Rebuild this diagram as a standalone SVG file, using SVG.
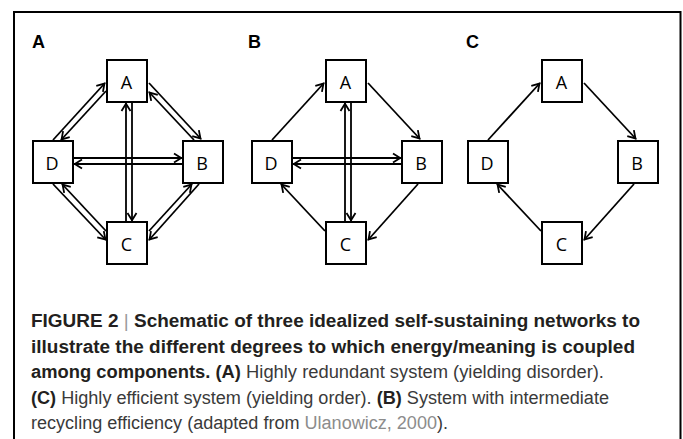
<svg xmlns="http://www.w3.org/2000/svg" width="683" height="439" viewBox="0 0 683 439">
<defs>
<style>
.box{fill:#fff;stroke:#000;stroke-width:2}
.nl{font-family:"Open Sans","Liberation Sans",sans-serif;font-size:18px;fill:#000;text-anchor:middle}
.pl{font-family:"Liberation Sans",Arial,sans-serif;font-size:18px;font-weight:bold;fill:#000}
.cn line{stroke:#000;stroke-width:1.8;marker-end:url(#ah)}
.cap{font-family:"Liberation Sans",Arial,sans-serif;font-size:18px;fill:#3a3a3a}
.b{font-weight:bold;fill:#231f20}
.g{fill:#8c8c8c}
.bar{fill:#9a9a9a;font-weight:normal}
</style>
<marker id="ah" viewBox="-10 -6 12 12" refX="0" refY="0" markerWidth="12" markerHeight="12" markerUnits="userSpaceOnUse" orient="auto">
<path d="M-8,-4.5 L-0.8,0 L-8,4.5" fill="none" stroke="#000" stroke-width="1.8"/>
</marker>
</defs>
<rect width="683" height="439" fill="#fff"/>
<path d="M14,439 V12 H680.5 V439" fill="none" stroke="#000" stroke-width="2"/>

<!-- Panel A -->
<text class="pl" x="32" y="48">A</text>
<g class="cn" id="connA">
<line x1="53" y1="140" x2="105" y2="83"/>
<line x1="106" y1="91" x2="61" y2="140"/>
<line x1="149" y1="83" x2="201" y2="139"/>
<line x1="194" y1="140" x2="149" y2="92"/>
<line x1="74" y1="158" x2="182" y2="158"/>
<line x1="182" y1="164" x2="74" y2="164"/>
<line x1="126" y1="221" x2="126" y2="103"/>
<line x1="132" y1="103" x2="132" y2="221"/>
<line x1="199" y1="184" x2="149" y2="240"/>
<line x1="149" y1="231" x2="192" y2="184"/>
<line x1="106" y1="231" x2="62" y2="184"/>
<line x1="53" y1="184" x2="106" y2="240"/>
</g>
<g id="a-A"><rect class="box" x="107" y="60" width="40" height="42"/><text class="nl" x="126.5" y="88.5">A</text></g>
<g id="a-B"><rect class="box" x="183" y="141" width="40" height="42"/><text class="nl" x="202" y="169.5">B</text></g>
<g id="a-C"><rect class="box" x="107" y="222" width="40" height="42"/><text class="nl" x="126.5" y="250.5">C</text></g>
<g id="a-D"><rect class="box" x="33" y="141" width="40" height="42"/><text class="nl" x="52" y="169.5">D</text></g>

<!-- Panel B -->
<text class="pl" x="248" y="48">B</text>
<g class="cn" id="connB" transform="translate(219,0)">
<line x1="53" y1="140" x2="105" y2="83"/>
<line x1="149" y1="83" x2="201" y2="139"/>
<line x1="74" y1="158" x2="182" y2="158"/>
<line x1="182" y1="164" x2="74" y2="164"/>
<line x1="126" y1="221" x2="126" y2="103"/>
<line x1="132" y1="103" x2="132" y2="221"/>
<line x1="199" y1="184" x2="149" y2="240"/>
<line x1="106" y1="231" x2="62" y2="184"/>
</g>
<g id="b-A"><rect class="box" x="326" y="60" width="40" height="42"/><text class="nl" x="345.5" y="88.5">A</text></g>
<g id="b-B"><rect class="box" x="402" y="141" width="40" height="42"/><text class="nl" x="421" y="169.5">B</text></g>
<g id="b-C"><rect class="box" x="326" y="222" width="40" height="42"/><text class="nl" x="345.5" y="250.5">C</text></g>
<g id="b-D"><rect class="box" x="252" y="141" width="40" height="42"/><text class="nl" x="271" y="169.5">D</text></g>

<!-- Panel C -->
<text class="pl" x="466" y="48">C</text>
<g class="cn" id="connC" transform="translate(435,0)">
<line x1="53" y1="140" x2="105" y2="83"/>
<line x1="149" y1="83" x2="201" y2="139"/>
<line x1="199" y1="184" x2="149" y2="240"/>
<line x1="106" y1="231" x2="62" y2="184"/>
</g>
<g id="c-A"><rect class="box" x="542" y="60" width="40" height="42"/><text class="nl" x="561.5" y="88.5">A</text></g>
<g id="c-B"><rect class="box" x="618" y="141" width="40" height="42"/><text class="nl" x="637" y="169.5">B</text></g>
<g id="c-C"><rect class="box" x="542" y="222" width="40" height="42"/><text class="nl" x="561.5" y="250.5">C</text></g>
<g id="c-D"><rect class="box" x="468" y="141" width="40" height="42"/><text class="nl" x="487" y="169.5">D</text></g>

<!-- Caption -->
<g id="caption">
<text class="cap" x="31" y="327" textLength="609" lengthAdjust="spacingAndGlyphs"><tspan class="b">FIGURE 2 </tspan><tspan class="bar">|</tspan><tspan class="b"> Schematic of three idealized self-sustaining networks to</tspan></text>
<text class="cap" x="31" y="352.5" textLength="604" lengthAdjust="spacingAndGlyphs"><tspan class="b">illustrate the different degrees to which energy/meaning is coupled</tspan></text>
<text class="cap" x="31" y="378" textLength="573" lengthAdjust="spacingAndGlyphs"><tspan class="b">among components. (A)</tspan> Highly redundant system (yielding disorder).</text>
<text class="cap" x="31" y="403.5" textLength="578" lengthAdjust="spacingAndGlyphs"><tspan class="b">(C)</tspan> Highly efficient system (yielding order). <tspan class="b">(B)</tspan> System with intermediate</text>
<text class="cap" x="31" y="429" textLength="417" lengthAdjust="spacingAndGlyphs">recycling efficiency (adapted from <tspan class="g">Ulanowicz, 2000</tspan>).</text>
</g>
</svg>
